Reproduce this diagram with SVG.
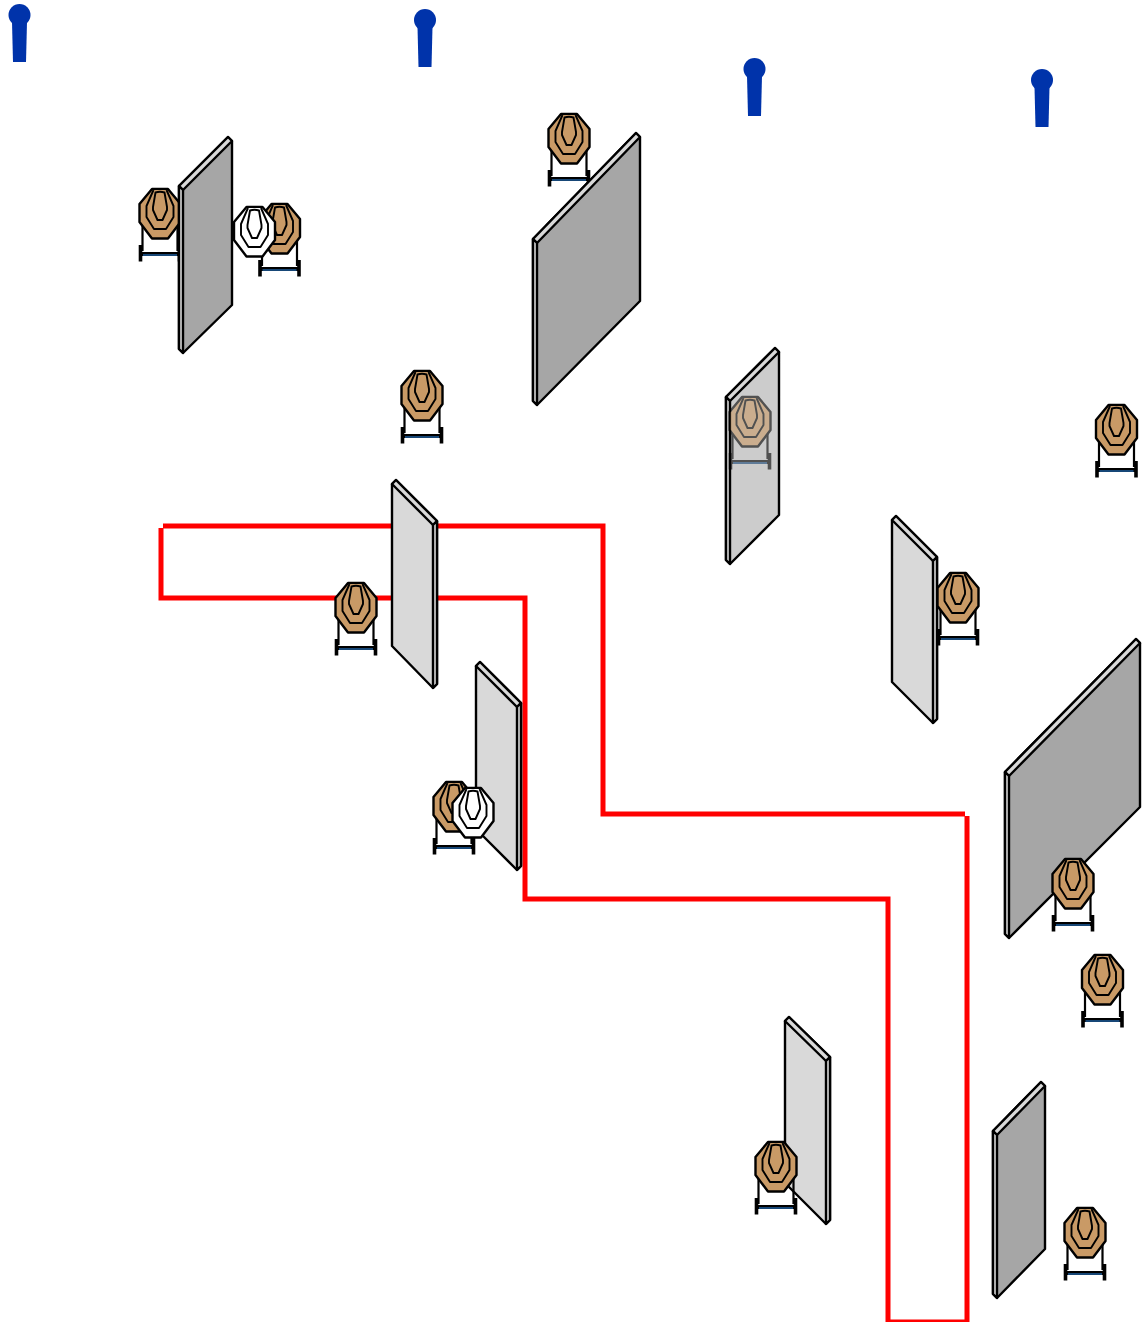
<svg xmlns="http://www.w3.org/2000/svg" width="1144" height="1322" viewBox="0 0 1144 1322">
<style>
.f{fill:#a6a6a6;stroke:#000;stroke-width:2.4;stroke-linejoin:round}
.l{fill:#d9d9d9;stroke:#000;stroke-width:2.4;stroke-linejoin:round}
.m{fill:#ccc;stroke:#000;stroke-width:2.4;stroke-linejoin:round}
.t{fill:#d9d9d9;stroke:#000;stroke-width:2.4;stroke-linejoin:round}
.route{fill:none;stroke:#ff0000;stroke-width:5}
.pin{fill:#0033aa}
.o{stroke:#000;stroke-width:2.4;stroke-linejoin:round}
.i{stroke:#000;stroke-width:1.9;stroke-linejoin:round}
.tan{fill:#c99a66}
.wht{fill:#fff}
.leg{fill:none;stroke:#000;stroke-width:2.2}
.foot{fill:none;stroke:#000;stroke-width:3.6}
.bar{fill:none;stroke:#000;stroke-width:4}
.bl{fill:none;stroke:#1f5f9f;stroke-width:1.6}
</style>
<defs>
<g id="pinS"><circle cx="0" cy="0" r="11" class="pin"/><polygon class="pin" points="-7.500,7 7.500,7 6.500,47 -6.500,47"/></g>
<g id="faceT">
<polygon class="o tan" points="-8,0 8,0 20.500,15 20.500,33 8,49.500 -8,49.500 -20.500,33 -20.500,15"/>
<path class="i tan" d="M-6.500,1 L-13.500,17 V28 L-6,40 H6 L13.500,28 V17 L6.500,1"/>
<path class="i tan" d="M-4.500,3.500 Q0,2 4.500,3.500 L7,18 V21 L2.500,31 H-2.500 L-7,21 V18 Z"/>
</g>
<g id="faceW">
<polygon class="o wht" points="-8,0 8,0 20.500,15 20.500,33 8,49.500 -8,49.500 -20.500,33 -20.500,15"/>
<path class="i wht" d="M-6.500,1 L-13.500,17 V28 L-6,40 H6 L13.500,28 V17 L6.500,1"/>
<path class="i wht" d="M-4.500,3.500 Q0,2 4.500,3.500 L7,18 V21 L2.500,31 H-2.500 L-7,21 V18 Z"/>
</g>
<g id="stand">
<path class="leg" d="M-17.500,30 V62 M17.500,30 V62"/>
<path class="bar" d="M-19,65 H19"/><path class="bl" d="M-17,66 H17"/>
<path class="foot" d="M-19.500,56 V72.500 M19.500,56 V72.500"/>
</g>
<g id="target"><use href="#stand"/><use href="#faceT"/></g>
</defs>

<g id="pin-1"><use href="#pinS" x="19.500" y="15"/></g>
<g id="pin-2"><use href="#pinS" x="425" y="20"/></g>
<g id="pin-3"><use href="#pinS" x="754.500" y="69"/></g>
<g id="pin-4"><use href="#pinS" x="1042" y="80"/></g>

<g id="connectors">
<path class="route" d="M163,526 H603 V814 H965 M967,816 V1322 H888 V899 H525 V598 H161 V528"/>
</g>

<g id="target-1"><use href="#target" x="160" y="189"/></g>
<g id="wall-1">
<polygon class="f" points="179,186 228,137 232,141 232,305 183,353 179,349"/>
<path class="t" d="M179,186 L228,137 L232,141 L183,190 Z"/><path class="t" d="M179,186 L183,190 V353 L179,349 Z"/>
</g>
<g id="target-2"><use href="#target" x="279.500" y="204"/></g>
<g id="target-2w"><use href="#faceW" x="254.500" y="207"/></g>
<g id="target-3"><use href="#target" x="569" y="114"/></g>
<g id="wall-2">
<polygon class="f" points="533,239 636,133 640,137 640,301 537,405 533,401"/>
<path class="t" d="M533,239 L636,133 L640,137 L537,243 Z"/><path class="t" d="M533,239 L537,243 V405 L533,401 Z"/>
</g>
<g id="target-4"><use href="#target" x="422" y="371"/></g>
<g id="wall-3">
<polygon class="m" points="726,397 775,348 779,352 779,515 730,564 726,560"/>
<path class="t" d="M726,397 L775,348 L779,352 L730,401 Z"/><path class="t" d="M726,397 L730,401 V564 L726,560 Z"/>
</g>
<g id="target-5" opacity="0.6"><use href="#target" x="750" y="397"/></g>
<g id="target-6"><use href="#target" x="1116.500" y="405"/></g>
<g id="wall-4">
<polygon class="l" points="392,484 396,480 437,521 437,684 433,688 392,646"/>
<path class="t" d="M392,484 L396,480 L437,521 L433,525 Z"/><path class="t" d="M433,525 L437,521 V684 L433,688 Z"/>
</g>
<g id="target-7"><use href="#target" x="356" y="583"/></g>
<g id="wall-5">
<polygon class="l" points="476,666 480,662 521,703 521,866 517,870 476,829"/>
<path class="t" d="M476,666 L480,662 L521,703 L517,707 Z"/><path class="t" d="M517,707 L521,703 V866 L517,870 Z"/>
</g>
<g id="target-8"><use href="#target" x="454" y="782"/></g>
<g id="target-8w"><use href="#faceW" x="473" y="788"/></g>
<g id="wall-6">
<polygon class="l" points="892,520 896,516 937,557 937,719 933,723 892,682"/>
<path class="t" d="M892,520 L896,516 L937,557 L933,561 Z"/><path class="t" d="M933,561 L937,557 V719 L933,723 Z"/>
</g>
<g id="target-9"><use href="#target" x="958" y="573"/></g>
<g id="wall-7">
<polygon class="f" points="1005,772 1136,639 1140,643 1140,807 1009,938 1005,934"/>
<path class="t" d="M1005,772 L1136,639 L1140,643 L1009,776 Z"/><path class="t" d="M1005,772 L1009,776 V938 L1005,934 Z"/>
</g>
<g id="target-10"><use href="#target" x="1073" y="859"/></g>
<g id="target-11"><use href="#target" x="1102.500" y="955"/></g>
<g id="wall-8">
<polygon class="l" points="785,1021 789,1017 830,1057 830,1220 826,1224 785,1183"/>
<path class="t" d="M785,1021 L789,1017 L830,1057 L826,1061 Z"/><path class="t" d="M826,1061 L830,1057 V1220 L826,1224 Z"/>
</g>
<g id="target-12"><use href="#target" x="776" y="1142"/></g>
<g id="wall-9">
<polygon class="f" points="993,1131 1041,1082 1045,1086 1045,1249 997,1298 993,1294"/>
<path class="t" d="M993,1131 L1041,1082 L1045,1086 L997,1135 Z"/><path class="t" d="M993,1131 L997,1135 V1298 L993,1294 Z"/>
</g>
<g id="target-13"><use href="#target" x="1085" y="1208"/></g>
</svg>
